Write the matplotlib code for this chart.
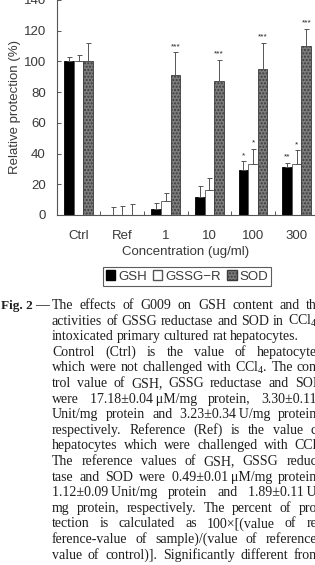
import matplotlib
matplotlib.use('Agg')
import matplotlib.pyplot as plt
import numpy as np

plt.rcParams['font.family'] = 'Liberation Sans'
plt.rcParams['mathtext.fontset'] = 'custom'
plt.rcParams['mathtext.rm'] = 'Liberation Serif'

groups = ['Ctrl', 'Ref', '1', '10', '100', '300']
gsh = [100, 0, 4, 12, 29, 31]
gsh_err = [3, 5, 4, 7, 6, 3]
gssg = [100, 0, 9, 16, 33, 33]
gssg_err = [4, 6, 5, 8, 10, 9]
sod = [100, 0, 91, 87, 95, 110]
sod_err = [12, 7, 15, 14, 17, 11]
gsh_sig = ['', '', '', '', '*', '**']
gssg_sig = ['', '', '', '', '*', '*']
sod_sig = ['', '', '***', '***', '***', '***']

caption = [
    "The effects of G009 on GSH content and th",
    "activities of GSSG reductase and SOD in CCl$_4$",
    "intoxicated primary cultured rat hepatocytes.",
    "Control (Ctrl) is the value of hepatocyte",
    "which were not challenged with CCl$_4$. The con",
    "trol value of GSH, GSSG reductase and SOI",
    "were 17.18\u00b10.04\u2009\u03bcM/mg protein, 3.30\u00b10.11",
    "Unit/mg protein and 3.23\u00b10.34\u2009U/mg protein",
    "respectively. Reference (Ref) is the value c",
    "hepatocytes which were challenged with CCl",
    "The reference values of GSH, GSSG reduc",
    "tase and SOD were 0.49\u00b10.01\u2009\u03bcM/mg protein",
    "1.12\u00b10.09\u2009Unit/mg protein and 1.89\u00b10.11\u2009U",
    "mg protein, respectively. The percent of pro",
    "tection is calculated as 100\u00d7[(value of re",
    "ference-value of sample)/(value of reference",
    "value of control)]. Significantly different fron",
]

W, H = 315, 565
fig = plt.figure(figsize=(W / 100, H / 100), dpi=100)
ax = fig.add_axes([57 / W, 1 - 215 / H, 258 / W, 215 / H])

x = np.arange(len(groups))
w = 0.22
tc = '#3a3a3a'
ax.bar(x - w, gsh, w, color='black', edgecolor='black', linewidth=0.6)
ax.bar(x, gssg, w, color='white', edgecolor='#555555', linewidth=0.6)
ax.bar(x + w, sod, w, color='#7c7c7c', edgecolor='#3c3c3c', linewidth=0.6,
       hatch='.....')

for off, vals, errs, sig in [(-w, gsh, gsh_err, gsh_sig),
                             (0, gssg, gssg_err, gssg_sig),
                             (w, sod, sod_err, sod_sig)]:
    ax.errorbar(x + off, vals, yerr=[np.zeros(len(errs)), errs], fmt='none',
                ecolor='#555555', elinewidth=0.7, capsize=1.8, capthick=0.7)
    for xi, v, e, s in zip(x + off, vals, errs, sig):
        if s:
            ax.text(xi, v + e + 1.5, s, ha='center', va='bottom',
                    fontsize=6, color='#222222')

ax.set_xlim(-0.493, 5.42)
ax.set_ylim(0, 140)
ax.set_yticks(np.arange(0, 141, 20))
ax.set_xticks(x)
ax.set_xticklabels(groups)
ax.set_xticks(x[:-1] + 0.5, minor=True)
ax.tick_params(axis='x', which='major', length=0, pad=11, labelsize=9.5,
               labelcolor=tc)
ax.tick_params(axis='x', which='minor', direction='in', length=3,
               color='#555555', width=0.7)
ax.tick_params(axis='y', direction='in', length=3, pad=8, labelsize=9.5,
               labelcolor=tc, color='#555555', width=0.7)
for side in ['top', 'right']:
    ax.spines[side].set_visible(False)
for side in ['left', 'bottom']:
    ax.spines[side].set_color('#555555')
    ax.spines[side].set_linewidth(0.8)

ax.set_ylabel('Relative protection (%)', fontsize=9.5, color=tc)
ax.yaxis.set_label_coords(-0.14, 0.5)
ax.set_xlabel('Concentration (ug/ml)', fontsize=9.5, color=tc)
ax.xaxis.set_label_coords(0.5, -0.145)

handles = [plt.Rectangle((0, 0), 1, 1, facecolor='black', edgecolor='black'),
           plt.Rectangle((0, 0), 1, 1, facecolor='white', edgecolor='#555555'),
           plt.Rectangle((0, 0), 1, 1, facecolor='#7c7c7c', edgecolor='#3c3c3c',
                         hatch='.....')]
leg = fig.legend(handles, ['GSH', 'GSSG\u2212R', 'SOD'], loc='center',
                 bbox_to_anchor=(187 / W, 1 - 276.5 / H), ncol=3, fontsize=9.5,
                 frameon=True, fancybox=False, handlelength=0.7,
                 handleheight=0.7, handletextpad=0.2, columnspacing=0.5,
                 borderpad=0.25, borderaxespad=0)
leg.get_frame().set_edgecolor('#333333')
leg.get_frame().set_linewidth(0.8)
for t in leg.get_texts():
    t.set_color(tc)

# caption, set word by word so the lines look justified
renderer = fig.canvas.get_renderer()
cap_kw = dict(fontsize=10, family='Liberation Serif', color='#1e1e1e',
              va='baseline')
dash = fig.text(49 / W, 1 - 309 / H, '\u2014', ha='right', **cap_kw)
dash_left = dash.get_window_extent(renderer).x0
fig.text((dash_left - 2) / W, 1 - 309 / H, 'Fig. 2', ha='right',
         fontweight='bold', **dict(cap_kw, fontsize=9.5))
x0, x1 = 52, 317
for i, line in enumerate(caption):
    yb = 1 - (309 + 15.6 * i) / H
    words = line.split(' ')
    texts = [fig.text(0, yb, wd, ha='left', **cap_kw) for wd in words]
    widths = [t.get_window_extent(renderer).width for t in texts]
    gap = (x1 - x0 - sum(widths)) / max(len(words) - 1, 1)
    if i == 2:
        gap = 3
    pos = x0
    for t, wd in zip(texts, widths):
        t.set_x(pos / W)
        pos += wd + gap

fig.savefig('out.png', dpi=100, facecolor='white')
